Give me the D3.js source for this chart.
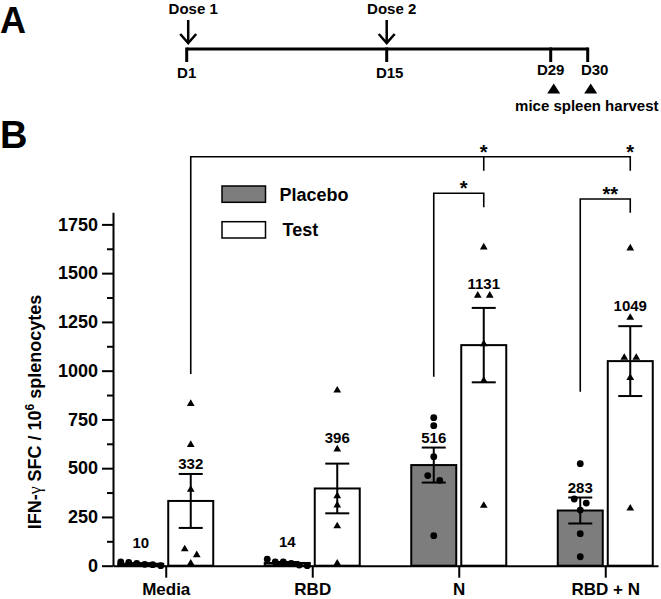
<!DOCTYPE html>
<html><head><meta charset="utf-8">
<script src="https://cdn.jsdelivr.net/npm/d3@7"></script>
<style>
body{margin:0;background:#fff}
svg{display:block}
text{font-family:"Liberation Sans",Arial,sans-serif;font-weight:bold;fill:#000}
</style>
</head><body>
<svg id="chart" width="661" height="599"></svg>
<script>
// ---------- data ----------
const categories = ["Media", "RBD", "N", "RBD + N"];
const groups = ["Placebo", "Test"];
const placeboMeans = [10, 14, 516, 283];
const testMeans = [332, 396, 1131, 1049];
const placeboPoints = [
  [5, 17, 7, 12, 0, 19],
  [3, 19, 12, 19, 33, 0],
  [759, 718, 559, 462, 438, 154],
  [523, 342, 321, 285, 164, 46]
];
const testPoints = [
  [830, 620, 390, 85, 55, 12],
  [899, 597, 357, 310, 203, 12],
  [1633, 1385, 1385, 1137, 949, 308],
  [1628, 1272, 1067, 1067, 964, 294]
];
const yTicks = [0, 250, 500, 750, 1000, 1250, 1500, 1750];
const yMinorTicks = [125, 375, 625, 875, 1125, 1375, 1625];
const groupColors = ["#7d7d7d", "#ffffff"];

const timelineDays = [1, 15, 29, 30];
const timelineLabels = ["D1", "D15", "D29", "D30"];
const doseLabels = ["Dose 1", "Dose 2"];
const doseDays = [1, 15];
const harvestDays = [29, 30];
const harvestLabel = "mice spleen harvest";

// significance annotations (levels in data units)
const sigBrackets = [
  {from: ["Media", "Test"], to: ["RBD + N", "Test"], level: 2097, leftEnd: 983, rightEnd: 2025,
   mids: [{at: ["N", "Test"], end: 2025}], labels: [{at: ["N", "Test"], text: "*"}, {at: ["RBD + N", "Test"], text: "*"}]},
  {from: ["N", "Placebo"], to: ["N", "Test"], level: 1910, leftEnd: 969, rightEnd: 1838, mids: [], labels: [{mid: true, text: "*"}]},
  {from: ["RBD + N", "Placebo"], to: ["RBD + N", "Test"], level: 1880, leftEnd: 892, rightEnd: 1810, mids: [], labels: [{mid: true, text: "**"}]}
];

// ---------- setup ----------
const svg = d3.select("#chart");

// ---------- Panel A: timeline ----------
svg.append("text").attr("x", 0).attr("y", 33).style("font-size", "36px").text("A");

const tx = d3.scaleLinear().domain(timelineDays).range([186.7, 386.7, 550.7, 587.7]);
const lineY = 49;
svg.append("line").attr("x1", tx(timelineDays[0])).attr("x2", tx(timelineDays[timelineDays.length - 1]))
  .attr("y1", lineY).attr("y2", lineY).attr("stroke", "#000").attr("stroke-width", 3);
svg.selectAll(".tlTick").data(timelineDays).join("line")
  .attr("x1", d => tx(d)).attr("x2", d => tx(d)).attr("y1", lineY - 1.5).attr("y2", 62)
  .attr("stroke", "#000").attr("stroke-width", 3);
svg.selectAll(".tlLab").data(timelineDays).join("text")
  .attr("x", (d, i) => tx(d) + (i === timelineDays.length - 1 ? 7 : (i === 1 ? 3 : 0)))
  .attr("y", (d, i) => i < 2 ? 78 : 75)
  .attr("text-anchor", "middle").style("font-size", "15px")
  .text((d, i) => timelineLabels[i]);

doseDays.forEach((d, i) => {
  const x = tx(d) + (i === 0 ? 1.5 : 0);
  svg.append("text").attr("x", x + 5).attr("y", 13.5).attr("text-anchor", "middle").style("font-size", "15px").text(doseLabels[i]);
  svg.append("line").attr("x1", x).attr("x2", x).attr("y1", 20).attr("y2", 43)
    .attr("stroke", "#000").attr("stroke-width", 2.5);
  svg.append("path").attr("d", `M${x - 8},34 L${x},43 L${x + 8},34`)
    .attr("fill", "none").attr("stroke", "#000").attr("stroke-width", 2.5);
});
harvestDays.forEach(d => {
  const x = tx(d) + 3;
  svg.append("path").attr("d", `M${x - 6.5},93.5 L${x},83.5 L${x + 6.5},93.5 Z`).attr("fill", "#000");
});
svg.append("text").attr("x", 658.5).attr("y", 111).attr("text-anchor", "end").style("font-size", "15px").text(harvestLabel);

// ---------- Panel B ----------
svg.append("text").attr("x", 0).attr("y", 148).style("font-size", "38px").text("B");

const y = d3.scaleLinear().domain([0, 1812]).range([565.7, 212.3]);
const x = d3.scalePoint().domain(categories).range([113, 658]).padding(0.36);
const sub = d3.scaleBand().domain(groups).range([-47.5, 47.5]).paddingInner(0.1);
const bw = sub.bandwidth();
const cx = (c, g) => x(c) + sub(g) + bw / 2;

// y axis
const yAxis = d3.axisLeft(y).tickValues(yTicks).tickFormat(d3.format("d")).tickSize(11).tickSizeOuter(0).tickPadding(4);
const gy = svg.append("g").attr("transform", "translate(113,0)").call(yAxis);
gy.select(".domain").attr("stroke", "#000").attr("stroke-width", 2);
gy.selectAll(".tick line").attr("stroke", "#000").attr("stroke-width", 2);
gy.selectAll(".tick text").style("font-size", "18px").style("font-family", "'Liberation Sans',Arial,sans-serif").style("font-weight", "bold").attr("fill", "#000");
svg.append("g").attr("transform", "translate(113,0)")
  .call(d3.axisLeft(y).tickValues(yMinorTicks).tickSize(6).tickFormat(""))
  .call(g => g.select(".domain").remove())
  .selectAll("line").attr("stroke", "#000").attr("stroke-width", 2);

// y label
const yl = svg.append("text").attr("transform", "translate(41,412) rotate(-90)")
  .attr("text-anchor", "middle").style("font-size", "18px");
yl.append("tspan").text("IFN-");
yl.append("tspan").style("font-weight", "normal").style("font-family", "'Liberation Serif',serif").text("γ");
yl.append("tspan").text(" SFC / 10");
yl.append("tspan").attr("dy", -7).style("font-size", "12px").text("6");
yl.append("tspan").attr("dy", 7).text(" splenocytes");

// build records
const records = [];
categories.forEach((c, i) => {
  [[groups[0], placeboMeans[i], placeboPoints[i]], [groups[1], testMeans[i], testPoints[i]]].forEach(([g, m, pts]) => {
    const sem = d3.deviation(pts) / Math.sqrt(pts.length);
    records.push({cat: c, grp: g, mean: m, sem, pts});
  });
});

// bars
svg.selectAll(".bar").data(records).join("rect")
  .attr("x", d => x(d.cat) + sub(d.grp)).attr("width", bw)
  .attr("y", d => y(d.mean)).attr("height", d => y(0) - y(d.mean))
  .attr("fill", d => groupColors[groups.indexOf(d.grp)])
  .attr("stroke", "#000").attr("stroke-width", 2);

// x axis
const xAxis = d3.axisBottom(x).tickSize(12).tickSizeOuter(0).tickPadding(5);
const gx = svg.append("g").attr("transform", `translate(0,${y(0)})`).call(xAxis);
gx.select(".domain").attr("stroke", "#000").attr("stroke-width", 2);
gx.selectAll(".tick line").attr("stroke", "#000").attr("stroke-width", 2);
gx.selectAll(".tick text").style("font-size", "17px").style("font-family", "'Liberation Sans',Arial,sans-serif").style("font-weight", "bold").attr("fill", "#000").attr("dy", "0.71em");

// error bars
const capW = 24;
records.forEach(d => {
  const c = cx(d.cat, d.grp);
  const g = svg.append("g").attr("stroke", "#000").attr("stroke-width", 2);
  g.append("line").attr("x1", c).attr("x2", c).attr("y1", y(d.mean - d.sem)).attr("y2", y(d.mean + d.sem));
  g.append("line").attr("x1", c - capW / 2).attr("x2", c + capW / 2).attr("y1", y(d.mean + d.sem)).attr("y2", y(d.mean + d.sem));
  g.append("line").attr("x1", c - capW / 2).attr("x2", c + capW / 2).attr("y1", y(d.mean - d.sem)).attr("y2", y(d.mean - d.sem));
});

// points with horizontal dodge for near-coincident values
function dodge(vals, center) {
  const items = vals.map(v => ({v, py: y(v)})).sort((a, b) => a.py - b.py);
  const clusters = [];
  items.forEach(it => {
    const last = clusters[clusters.length - 1];
    if (last && it.py - last[last.length - 1].py < 6) last.push(it); else clusters.push([it]);
  });
  clusters.forEach(cl => {
    const n = cl.length;
    const sp = n > 1 ? Math.min(12, 40 / (n - 1)) : 0;
    cl.forEach((it, i) => { it.px = center + (i - (n - 1) / 2) * sp; });
  });
  return items;
}
const tri = d3.symbol().type(d3.symbolTriangle).size(26);
records.forEach(d => {
  d.placed = dodge(d.pts, cx(d.cat, d.grp));
  if (d.grp === groups[0]) {
    svg.selectAll(null).data(d.placed).join("circle")
      .attr("cx", p => p.px).attr("cy", p => p.py).attr("r", 3.4).attr("fill", "#000");
  } else {
    svg.selectAll(null).data(d.placed).join("path")
      .attr("d", tri).attr("transform", p => `translate(${p.px},${p.py})`).attr("fill", "#000");
  }
});

// mean labels placed above the cap, avoiding markers
records.forEach(d => {
  const cap = y(d.mean + d.sem);
  let base = Math.min(cap - 5, y(d.mean) - 16);
  let moved = true;
  while (moved) {
    moved = false;
    for (const p of d.placed) {
      const top = p.py - 3.5, bot = p.py + 3.5;
      if (bot > base - 11 && top < base + 1) { base = top - 3; moved = true; }
    }
  }
  svg.append("text").attr("x", cx(d.cat, d.grp)).attr("y", base)
    .attr("text-anchor", "middle").style("font-size", "15px").text(d3.format("d")(d.mean));
});

// legend
groups.forEach((g, i) => {
  const ly = 186 + i * 35.7;
  svg.append("rect").attr("x", 222).attr("y", ly).attr("width", 43.5).attr("height", 16.3)
    .attr("fill", groupColors[i]).attr("stroke", "#000").attr("stroke-width", 1.5);
  svg.append("text").attr("x", i === 0 ? 279.5 : 282.5).attr("y", ly + 14.7).style("font-size", "18px").text(g);
});

// significance brackets
sigBrackets.forEach(b => {
  const x1 = cx(...b.from), x2 = cx(...b.to), ly = y(b.level);
  const g = svg.append("g").attr("stroke", "#000").attr("stroke-width", 1.6).attr("fill", "none");
  g.append("path").attr("d", `M${x1},${y(b.leftEnd)} V${ly} H${x2} V${y(b.rightEnd)}`);
  b.mids.forEach(m => {
    const mx = cx(...m.at);
    g.append("line").attr("x1", mx).attr("x2", mx).attr("y1", ly).attr("y2", y(m.end));
  });
  b.labels.forEach(l => {
    const lx = l.mid ? (x1 + x2) / 2 + 5 : cx(...l.at);
    svg.append("text").attr("x", lx).attr("y", ly + 2).attr("text-anchor", "middle")
      .style("font-size", "20px").text(l.text);
  });
});
</script>
</body></html>
